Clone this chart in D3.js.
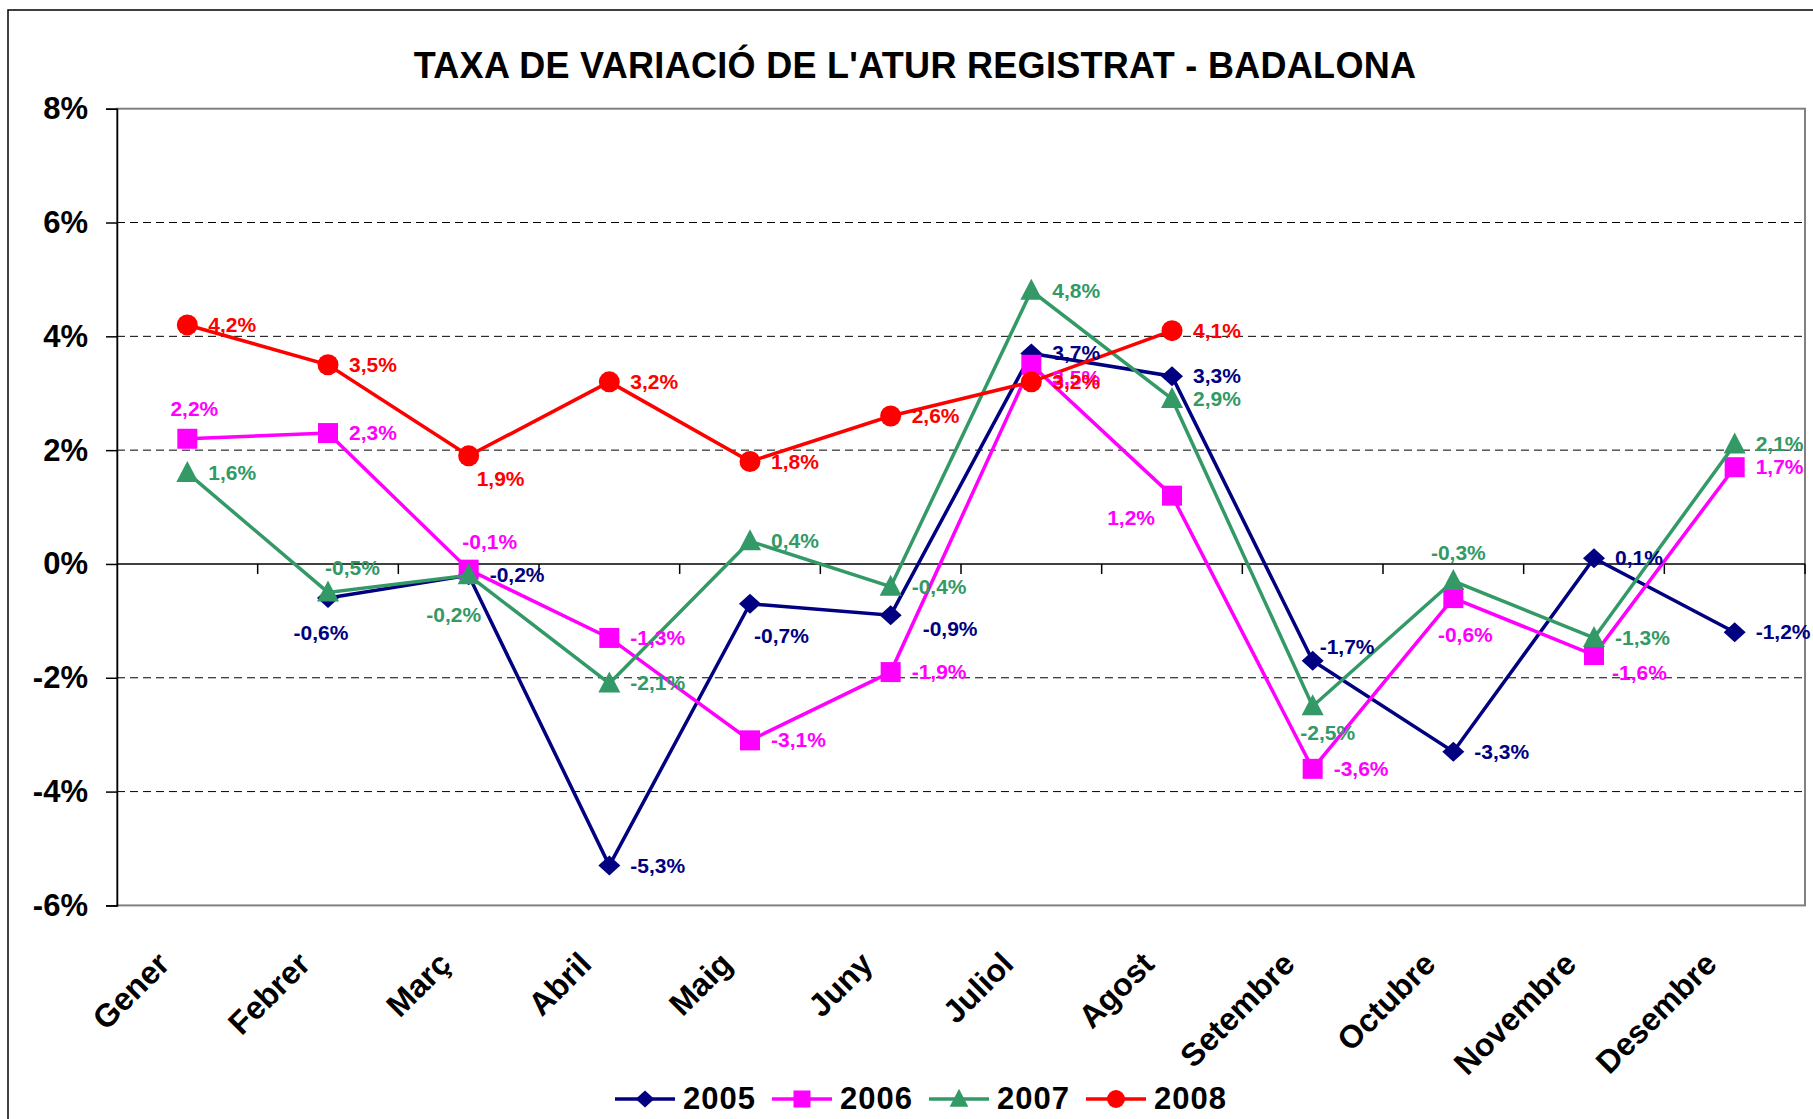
<!DOCTYPE html>
<html>
<head>
<meta charset="utf-8">
<script src="https://cdn.jsdelivr.net/npm/d3@7"></script>
<style>
  body { margin: 0; background: #fff; }
  svg { display: block; font-family: "Liberation Sans", Arial, sans-serif; }
</style>
</head>
<body>
<script>
// data
var months = ["Gener", "Febrer", "Març", "Abril", "Maig", "Juny", "Juliol", "Agost", "Setembre", "Octubre", "Novembre", "Desembre"];
var years = ["2005", "2006", "2007", "2008"];
var v2005 = [null, -0.6, -0.2, -5.3, -0.7, -0.9, 3.7, 3.3, -1.7, -3.3, 0.1, -1.2];
var v2006 = [2.2, 2.3, -0.1, -1.3, -3.1, -1.9, 3.5, 1.2, -3.6, -0.6, -1.6, 1.7];
var v2007 = [1.6, -0.5, -0.2, -2.1, 0.4, -0.4, 4.8, 2.9, -2.5, -0.3, -1.3, 2.1];
var v2008 = [4.2, 3.5, 1.9, 3.2, 1.8, 2.6, 3.2, 4.1, null, null, null, null];
var yTicks = [-6, -4, -2, 0, 2, 4, 6, 8];

// where each data label sits (codes looked up in "place" below)
var lab2005 = [null, "b", "r", "r", "br", "brr", "r", "r", "ar", "r", "r", "r"];
var lab2006 = ["a", "r", "a2", "r", "r", "r", "rl", "bl", "r", "b2", "rb", "r"];
var lab2007 = ["r", "ar2", "bl2", "r", "r", "r", "r", "r", "b3", "a3", "r", "r"];
var lab2008 = ["r", "r", "br2", "r", "r", "r", "r", "r", null, null, null, null];

var place = {
  r:   [21, 7, "start"],
  b:   [-7, 42, "middle"],
  br:  [4, 39, "start"],
  brr: [32, 21, "start"],
  ar:  [7, -7, "start"],
  a:   [7, -23, "middle"],
  a2:  [21, -21, "middle"],
  rl:  [21, 20, "start"],
  bl:  [-17, 29, "end"],
  b2:  [12, 44, "middle"],
  rb:  [18, 25, "start"],
  ar2: [-3, -17, "start"],
  bl2: [-15, 47, "middle"],
  b3:  [15, 34, "middle"],
  a3:  [5, -21, "middle"],
  br2: [8, 30, "start"]
};

var series = [
  {name: years[0], values: v2005, labels: lab2005, color: "#000080", shape: "diamond"},
  {name: years[1], values: v2006, labels: lab2006, color: "#FF00FF", shape: "square"},
  {name: years[2], values: v2007, labels: lab2007, color: "#339966", shape: "triangle"},
  {name: years[3], values: v2008, labels: lab2008, color: "#FF0000", shape: "circle"}
];

var W = 1813, H = 1119;
var plot = {left: 117, right: 1805, top: 108.7, bottom: 905.4};

var svg = d3.select("body").append("svg")
    .attr("width", W)
    .attr("height", H);

// outer chart border
svg.append("rect")
    .attr("x", 8).attr("y", 10)
    .attr("width", W + 20).attr("height", H + 20)
    .attr("fill", "#fff")
    .attr("stroke", "#000")
    .attr("stroke-width", 1.5);

var x = d3.scaleBand().domain(months).range([plot.left, plot.right]).padding(0);
var y = d3.scaleLinear().domain([-6, 8]).range([plot.bottom, plot.top]);
function cx(i) { return x(months[i]) + x.bandwidth() / 2; }

// title
svg.append("text")
    .attr("x", 915)
    .attr("y", 78)
    .attr("text-anchor", "middle")
    .style("font-size", "36px")
    .style("letter-spacing", "0.3px")
    .style("font-weight", "bold")
    .text("TAXA DE VARIACIÓ DE L'ATUR REGISTRAT - BADALONA");

// dashed gridlines
svg.append("g")
    .selectAll("line")
    .data(yTicks.filter(function(d) { return d !== 0 && d !== 8 && d !== -6; }))
    .enter().append("line")
    .attr("x1", plot.left).attr("x2", plot.right)
    .attr("y1", function(d) { return y(d); })
    .attr("y2", function(d) { return y(d); })
    .attr("stroke", "#000")
    .attr("stroke-width", 1)
    .attr("stroke-dasharray", "8,5");

// plot area border (grey)
svg.append("rect")
    .attr("x", plot.left).attr("y", y(8))
    .attr("width", plot.right - plot.left)
    .attr("height", y(-6) - y(8))
    .attr("fill", "none")
    .attr("stroke", "#808080")
    .attr("stroke-width", 2);

// y axis
var yAxis = svg.append("g")
    .attr("transform", "translate(" + plot.left + ",0)")
    .call(d3.axisLeft(y).tickValues(yTicks).tickSize(11).tickPadding(18)
      .tickFormat(function(d) { return d + "%"; }));
yAxis.select(".domain").attr("stroke", "#000").attr("stroke-width", 1.5);
yAxis.selectAll(".tick line").attr("stroke", "#000").attr("stroke-width", 1.5);
yAxis.selectAll(".tick text")
    .attr("fill", "#000")
    .style("font-size", "31px")
    .style("font-weight", "bold")
    .style("font-family", "'Liberation Sans', Arial, sans-serif");

// x axis at 0%, ticks between categories
var xg = svg.append("g");
xg.append("line")
    .attr("x1", plot.left).attr("x2", plot.right)
    .attr("y1", y(0)).attr("y2", y(0))
    .attr("stroke", "#000").attr("stroke-width", 1.5);
xg.selectAll(".xt")
    .data(months.slice(1).concat(["end"]))
    .enter().append("line")
    .attr("class", "xt")
    .attr("x1", function(d) { return d === "end" ? plot.right : x(d); })
    .attr("x2", function(d) { return d === "end" ? plot.right : x(d); })
    .attr("y1", y(0)).attr("y2", y(0) + 10)
    .attr("stroke", "#000").attr("stroke-width", 1.5);

// month labels, rotated
svg.append("g")
    .selectAll("text")
    .data(months)
    .enter().append("text")
    .attr("transform", function(d) {
      return "translate(" + (x(d) + x.bandwidth() / 2 - 16) + ",966) rotate(-45)";
    })
    .attr("text-anchor", "end")
    .style("font-size", "32px")
    .style("font-weight", "bold")
    .text(function(d) { return d; });

// marker shapes
function marker(sel, shape, color, k) {
  k = k || 1;
  if (shape === "diamond") {
    sel.append("path").attr("d", "M0,-10L11,0L0,10L-11,0Z").attr("transform", "scale(" + k + ")").attr("fill", color);
  } else if (shape === "square") {
    sel.append("rect").attr("x", -10).attr("y", -10).attr("width", 20).attr("height", 20).attr("transform", "scale(" + k + ")").attr("fill", color);
  } else if (shape === "triangle") {
    sel.append("path").attr("d", "M0,-12L11,9L-11,9Z").attr("transform", "scale(" + k + ")").attr("fill", color);
  } else {
    sel.append("circle").attr("r", 10.5 * k).attr("fill", color);
  }
}

var line = d3.line()
    .defined(function(d) { return d.v !== null; })
    .x(function(d) { return cx(d.i); })
    .y(function(d) { return y(d.v); });

series.forEach(function(s) {
  var pts = s.values.map(function(v, i) { return {v: v, i: i}; });
  var g = svg.append("g");
  g.append("path")
      .datum(pts)
      .attr("d", line)
      .attr("fill", "none")
      .attr("stroke", s.color)
      .attr("stroke-width", 3.5);
  g.selectAll(".m")
      .data(pts.filter(function(d) { return d.v !== null; }))
      .enter().append("g")
      .attr("class", "m")
      .attr("transform", function(d) { return "translate(" + cx(d.i) + "," + y(d.v) + ")"; })
      .each(function() { marker(d3.select(this), s.shape, s.color); });
});

// data labels on top
series.forEach(function(s) {
  var pts = s.values.map(function(v, i) { return {v: v, i: i}; })
      .filter(function(d) { return d.v !== null; });
  svg.append("g")
      .selectAll("text")
      .data(pts)
      .enter().append("text")
      .attr("x", function(d) { return cx(d.i) + place[s.labels[d.i]][0]; })
      .attr("y", function(d) { return y(d.v) + place[s.labels[d.i]][1]; })
      .attr("text-anchor", function(d) { return place[s.labels[d.i]][2]; })
      .attr("fill", s.color)
      .style("font-size", "21px")
      .style("font-weight", "bold")
      .text(function(d) { return d3.format(".1f")(d.v).replace(".", ",").replace("−", "-") + "%"; });
});

// legend
var leg = svg.append("g").attr("transform", "translate(615,1099)");
series.forEach(function(s, k) {
  var g = leg.append("g").attr("transform", "translate(" + (k * 157) + ",0)");
  g.append("line")
      .attr("x1", 0).attr("x2", 60)
      .attr("y1", 0).attr("y2", 0)
      .attr("stroke", s.color).attr("stroke-width", 3.5);
  var m = g.append("g").attr("transform", "translate(30,0)");
  marker(m, s.shape, s.color, 0.85);
  g.append("text")
      .attr("x", 68)
      .attr("y", 10)
      .style("font-size", "31px")
      .style("letter-spacing", "1px")
      .style("font-weight", "bold")
      .text(s.name);
});
</script>
</body>
</html>
